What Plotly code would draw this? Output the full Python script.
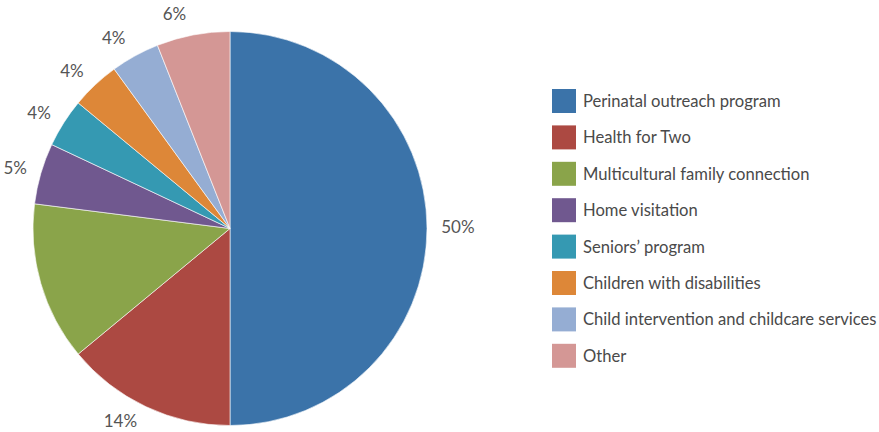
import plotly.graph_objects as go

labels = ["Perinatal outreach program", "Health for Two", "Multicultural family connection",
          "Home visitation", "Seniors’ program", "Children with disabilities",
          "Child intervention and childcare services", "Other"]
values = [50, 14, 13, 5, 4, 4, 4, 6]
colors = ["#3B73A9", "#AC4942", "#8AA44A", "#70588F", "#3599B2", "#DD8738", "#95ADD3", "#D49795"]
show_label = [True, True, False, True, True, True, True, True]

W, H = 879, 432
texttemplates = ["%{percent:.0%}" if s else "" for s in show_label]
cx, cy, r = 230, 228.5, 197

def dom(rad):
    y0 = max(0.0, 1 - (cy + rad) / H)
    y1 = min(1.0, y0 + 2 * rad / H)
    return dict(x=[(cx - rad) / W, (cx + rad) / W], y=[y0, y1])

fig = go.Figure()
# visible pie
fig.add_trace(go.Pie(
    labels=labels, values=values, sort=False, direction="clockwise", rotation=0,
    marker=dict(colors=colors, line=dict(color="white", width=0.6)),
    textinfo="none", showlegend=False, hoverinfo="label+percent",
    domain=dom(r),
))
# transparent pie carrying outside labels a little further out
fig.add_trace(go.Pie(
    labels=labels, values=values, sort=False, direction="clockwise", rotation=0,
    marker=dict(colors=["rgba(0,0,0,0)"] * len(values), line=dict(width=0)),
    texttemplate=texttemplates, textposition="outside",
    textfont=dict(family="Lato", size=17, color="#555555"),
    showlegend=False, hoverinfo="skip", automargin=False,
    domain=dom(r + 9),
))

shapes, annotations = [], []
x0, sw = 552, 24
y_first, step = 101, 36.4
for i, (lab, col) in enumerate(zip(labels, colors)):
    yc = y_first + i * step
    shapes.append(dict(type="rect", xref="paper", yref="paper",
                       x0=x0 / W, x1=(x0 + sw) / W,
                       y0=1 - (yc + sw / 2) / H, y1=1 - (yc - sw / 2) / H,
                       fillcolor=col, line=dict(width=0)))
    annotations.append(dict(xref="paper", yref="paper", x=(x0 + sw + 5) / W, y=1 - yc / H,
                            text=lab, showarrow=False, xanchor="left", yanchor="middle",
                            font=dict(family="Lato", size=16.6, color="#4a4a4a")))

fig.update_layout(width=W, height=H, margin=dict(l=0, r=0, t=0, b=0, autoexpand=False),
                  paper_bgcolor="white", plot_bgcolor="white",
                  shapes=shapes, annotations=annotations)
fig.write_html("out.html")
